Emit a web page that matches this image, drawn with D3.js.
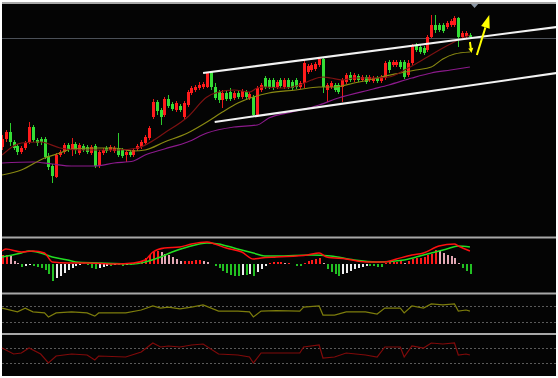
<!DOCTYPE html>
<html>
<head>
<meta charset="utf-8">
<script src="https://cdn.jsdelivr.net/npm/d3@7/dist/d3.min.js"></script>
<style>
body { margin: 0; background: #fff; }
svg { display: block; }
</style>
</head>
<body>
<div id="chart"></div>
<script>
// candle prices (arbitrary units)
var opens  = [93,101,108,98,94,88,92,98,113,100,101,101,84,74,63,85,88,95,90,96,87,94,93,87,94,74,87,92,90,89,
              92,90,85,88,85,91,93,97,102,123,138,130,125,141,136,130,134,123,135,147,150,152,153,153,168,153,148,140,147,148,
              142,147,143,148,142,143,125,150,162,160,160,153,160,153,160,158,160,153,157,168,170,171,175,181,150,153,155,155,153,158,
              165,160,164,160,163,160,159,162,159,162,178,175,175,178,178,165,177,195,193,192,190,203,215,215,215,213,215,215,222,203,204,205];
var highs  = [105,110,117,100,96,94,99,118,115,102,103,103,87,76,87,90,97,97,102,98,97,96,95,95,96,90,92,94,95,94,
              107,92,90,90,92,96,100,105,114,141,140,132,143,145,138,139,136,139,150,154,155,158,158,168,168,157,150,150,150,152,
              149,149,151,150,148,145,154,157,164,162,162,160,162,162,162,160,162,159,180,176,177,178,182,182,157,159,157,157,162,167,
              168,167,166,165,165,165,164,164,165,179,180,180,180,180,180,180,196,197,195,194,205,225,225,217,217,219,221,224,223,209,209,207];
var lows   = [90,98,94,90,85,86,90,96,98,94,95,81,70,57,62,83,86,88,84,86,85,88,86,85,72,72,85,87,88,87,
              83,82,78,83,83,89,91,95,100,121,125,115,123,132,129,128,128,121,133,145,148,150,151,152,150,140,137,132,139,139,
              140,141,141,141,140,123,123,148,151,151,150,151,152,151,151,150,151,151,152,166,168,169,173,147,138,151,148,146,138,156,
              158,158,158,158,156,158,157,157,157,160,167,173,173,171,161,163,175,188,186,185,188,202,207,208,207,211,213,213,193,201,202,201];
var closes = [101,108,98,92,88,92,97,113,100,97,98,83,73,64,85,88,95,90,96,90,95,90,88,93,74,88,90,89,93,92,
              85,84,88,85,90,94,98,103,112,138,129,123,141,134,131,137,130,137,148,152,153,155,156,168,153,142,140,147,141,141,
              147,143,149,143,146,125,152,155,153,153,152,158,154,160,153,152,153,157,177,174,175,176,181,153,155,157,150,148,160,165,
              160,165,160,163,158,163,162,159,163,177,170,178,178,173,163,177,194,190,188,187,203,215,210,210,209,217,219,222,203,207,207,203];

// moving averages: [candle index, value]
var maShort = [[0,85],[5,97],[10,98],[15,92],[20,90],[25,90],[30,90],[35,92],[38,97],[42,107],[48,123],[53,143],[56,148],
               [60,150],[64,148],[66,152],[68,153],[73,152],[77,155],[80,160],[83,163],[85,162],[88,160],[91,162],[96,162],
               [100,163],[105,172],[110,183],[114,192],[118,200],[121,205]];
var maMid   = [[0,65],[5,70],[11,82],[15,87],[18,91],[25,92],[29,92],[34,89],[37,90],[42,98],[48,107],[53,118],[57,128],
               [61,137],[65,143],[69,147],[76,150],[82,153],[86,153],[91,157],[96,161],[98,163],[103,167],[107,170],[111,173],
               [114,181],[117,186],[121,188]];
var maLong  = [[0,77],[8,78],[13,76],[18,74],[24,74],[29,77],[34,79],[37,85],[42,91],[48,98],[53,107],[60,113],[66,115],
               [69,122],[75,128],[82,135],[87,142],[96,151],[100,155],[106,162],[111,167],[116,170],[121,173]];

// trend channel and marks drawn on the main panel
var channelTop    = [[52,167],[143.5,213]];
var channelBottom = [[55,118],[143.5,167]];
var priceLine = 202;
var arrowSmall = [[121,198],[121.4,187]];
var arrowBig   = [[122.8,185],[126,225]];
var markerIndex = 122.2;

// MACD: [index, value]
var dif = [[0,0.13],[1,0.15],[5,0.12],[8,0.13],[11,0.11],[13,0.02],[17,0.01],[22,0.01],[29,0.00],[34,0.01],[37,0.04],
           [39,0.12],[42,0.16],[46,0.17],[49,0.20],[53,0.22],[55,0.20],[58,0.16],[62,0.12],[65,0.05],[67,0.06],[71,0.07],
           [79,0.09],[82,0.11],[84,0.07],[89,0.05],[94,0.02],[99,0.02],[102,0.05],[106,0.09],[109,0.11],[113,0.18],
           [117,0.20],[118,0.18],[121,0.13]];
var dea = [[0,0.07],[5,0.11],[7,0.13],[10,0.11],[13,0.07],[17,0.04],[19,0.02],[25,0.01],[34,0.00],[37,0.02],[41,0.07],
           [44,0.12],[48,0.17],[53,0.21],[56,0.20],[60,0.16],[65,0.11],[68,0.08],[71,0.08],[80,0.09],[85,0.08],[91,0.04],
           [97,0.02],[104,0.04],[109,0.09],[115,0.15],[118,0.18],[121,0.17]];
var macdHist = [0.09,0.09,0.08,0.03,0.01,-0.03,-0.02,-0.01,-0.02,-0.03,-0.04,-0.06,-0.10,-0.17,-0.14,-0.12,-0.09,-0.06,-0.04,-0.02,
                -0.01,0.005,-0.01,-0.04,-0.05,-0.04,-0.03,-0.02,-0.02,-0.01,-0.01,-0.02,-0.01,-0.01,0.01,0.01,0.03,0.06,0.09,0.12,
                0.13,0.12,0.10,0.09,0.07,0.05,0.03,0.03,0.03,0.03,0.04,0.04,0.03,0.02,0.00,-0.02,-0.04,-0.07,-0.09,-0.11,
                -0.12,-0.12,-0.11,-0.11,-0.10,-0.12,-0.08,-0.05,-0.02,0.01,0.02,0.02,0.02,0.01,0.01,0.00,-0.02,-0.02,0.01,0.03,
                0.04,0.05,0.06,0.01,-0.05,-0.08,-0.10,-0.12,-0.10,-0.09,-0.07,-0.05,-0.04,-0.03,-0.02,-0.02,-0.02,-0.03,-0.03,0.01,
                0.02,0.02,0.02,0.03,0.01,0.03,0.05,0.06,0.06,0.07,0.09,0.10,0.14,0.13,0.11,0.09,0.08,0.06,0.01,-0.04,
                -0.07,-0.10];

// two oscillators: [index, value], guide lines at 20 / 80
var osc1 = [[0,72],[4,58],[6,72],[8,58],[11,54],[12,39],[14,54],[18,58],[22,54],[24,42],[25,54],[32,54],[36,65],[39,80],
            [41,72],[43,76],[46,69],[49,76],[52,84],[56,61],[61,61],[64,58],[65,39],[67,61],[71,63],[77,61],[78,76],[82,80],
            [83,46],[86,46],[89,58],[94,58],[97,50],[99,72],[103,72],[104,54],[106,80],[109,72],[111,88],[114,84],[117,88],
            [118,61],[120,65],[121,61]];
var osc2 = [[0,80],[3,56],[5,60],[7,80],[10,56],[12,20],[14,48],[18,56],[22,52],[24,32],[25,48],[32,44],[36,64],[39,100],
            [41,84],[43,88],[46,84],[49,92],[52,96],[56,56],[61,52],[64,44],[65,20],[67,60],[71,60],[77,60],[78,84],[82,92],
            [83,40],[86,44],[89,60],[94,52],[97,44],[99,84],[103,84],[104,44],[106,88],[109,80],[111,100],[114,96],[117,100],
            [118,52],[120,56],[121,52]];
var oscGuides = [20, 80];

function KChart(container){
    this.chart = {};
    this.chart.width = 558;
    this.chart.height = 378;
    this.chart.left = 2;
    this.chart.right = 556;
    this.chart.container = container;
    this.chart.svg = null;
    this.chart.x = null;

    this.init();
}

KChart.prototype = {
    constructor: KChart,

    line: function(g, pts, y, color, width){
        var x = this.chart.x;
        g.append("path")
            .datum(pts)
            .attr("fill", "none")
            .attr("stroke", color)
            .attr("stroke-width", width)
            .attr("d", d3.line()
                .x(function(d) { return x(d[0]); })
                .y(function(d) { return y(d[1]); }));
    },

    drawMain: function(){
        var self = this,
            chart = self.chart,
            x = chart.x;

        var y = d3.scaleLinear().domain([0, 240]).range([240, 0]);

        chart.svg.append("clipPath").attr("id", "clip-main")
            .append("rect").attr("x", chart.left).attr("y", 3)
            .attr("width", chart.right - chart.left).attr("height", 233);

        var g = chart.svg.append("g").attr("clip-path", "url(#clip-main)");

        // last price line
        g.append("line")
            .attr("x1", chart.left).attr("x2", chart.right)
            .attr("y1", Math.round(y(priceLine)) + 0.5).attr("y2", Math.round(y(priceLine)) + 0.5)
            .attr("stroke", "#4b5058");

        var idx = d3.range(closes.length);
        var up = function(i) { return closes[i] >= opens[i]; };

        g.append("g").selectAll("line")
            .data(idx)
            .enter().append("line")
            .attr("x1", function(i) { return Math.round(x(i)) + 0.5; })
            .attr("x2", function(i) { return Math.round(x(i)) + 0.5; })
            .attr("y1", function(i) { return y(highs[i]); })
            .attr("y2", function(i) { return y(lows[i]); })
            .attr("stroke", function(i) { return up(i) ? "#e81818" : "#2ccc2c"; });

        g.append("g").selectAll("rect")
            .data(idx)
            .enter().append("rect")
            .attr("x", function(i) { return Math.round(x(i)) - 1; })
            .attr("y", function(i) { return y(Math.max(opens[i], closes[i])); })
            .attr("width", 3)
            .attr("height", function(i) { return Math.max(1, Math.abs(y(opens[i]) - y(closes[i]))); })
            .attr("fill", function(i) { return up(i) ? "#ff1c1c" : "#35dd35"; });

        var curve = d3.curveMonotoneX;
        var ma = function(pts, color){
            g.append("path")
                .datum(pts)
                .attr("fill", "none")
                .attr("stroke", color)
                .attr("stroke-width", 1.2)
                .attr("d", d3.line().curve(curve)
                    .x(function(d) { return x(d[0]); })
                    .y(function(d) { return y(d[1]); }));
        };
        ma(maLong, "#8c1a8c");
        ma(maMid, "#8a8a12");
        ma(maShort, "#7c1212");

        // channel
        self.line(g, channelTop, y, "#f2f2f2", 2);
        self.line(g, channelBottom, y, "#f2f2f2", 2);

        // yellow arrows
        var arrow = function(pts, head, w){
            var x0 = x(pts[0][0]), y0 = y(pts[0][1]),
                x1 = x(pts[1][0]), y1 = y(pts[1][1]);
            var a = Math.atan2(y1 - y0, x1 - x0);
            var bx = x1 - head * Math.cos(a), by = y1 - head * Math.sin(a);
            var nx = -Math.sin(a) * w, ny = Math.cos(a) * w;
            g.append("line")
                .attr("x1", x0).attr("y1", y0).attr("x2", bx).attr("y2", by)
                .attr("stroke", "#ffff00").attr("stroke-width", 2);
            g.append("path")
                .attr("d", "M" + x1 + "," + y1 + "L" + (bx + nx) + "," + (by + ny) + "L" + (bx - nx) + "," + (by - ny) + "Z")
                .attr("fill", "#ffff00");
        };
        arrow(arrowSmall, 5, 2.5);
        arrow(arrowBig, 13, 4.5);

        // small marker on top
        var mx = x(markerIndex);
        chart.svg.append("path")
            .attr("d", "M" + (mx - 4.5) + ",3L" + (mx + 4.5) + ",3L" + mx + ",8Z")
            .attr("fill", "#8a96a4");
    },

    drawMacd: function(){
        var self = this,
            chart = self.chart,
            x = chart.x;

        var y = d3.scaleLinear().domain([-0.29, 0.25]).range([293, 239]);
        var g = chart.svg.append("g");

        g.selectAll("rect")
            .data(macdHist)
            .enter().append("rect")
            .attr("x", function(d, i) { return Math.round(x(i)); })
            .attr("y", function(d) { return d >= 0 ? y(d) : y(0); })
            .attr("width", 2)
            .attr("height", function(d) { return Math.abs(y(d) - y(0)); })
            .attr("fill", function(d, i) {
                var prev = i > 0 ? macdHist[i - 1] : 0;
                if (d >= 0) return d >= prev ? "#ff1a1a" : "#e2a8b4";
                return d <= prev ? "#22c022" : "#eeeeee";
            });

        var curve = d3.curveMonotoneX;
        [[dea, "#22dd22"], [dif, "#ff1010"]].forEach(function(s){
            g.append("path")
                .datum(s[0])
                .attr("fill", "none")
                .attr("stroke", s[1])
                .attr("stroke-width", 1.5)
                .attr("d", d3.line().curve(curve)
                    .x(function(d) { return x(d[0]); })
                    .y(function(d) { return y(d[1]); }));
        });
    },

    drawOsc: function(data, top, bottom, color){
        var self = this,
            chart = self.chart,
            x = chart.x;

        var y = d3.scaleLinear().domain([20, 80]).range([bottom, top]);
        var g = chart.svg.append("g");

        g.selectAll("line")
            .data(oscGuides)
            .enter().append("line")
            .attr("x1", chart.left).attr("x2", chart.right)
            .attr("y1", function(d) { return Math.round(y(d)) + 0.5; })
            .attr("y2", function(d) { return Math.round(y(d)) + 0.5; })
            .attr("stroke", "#5a5a5a")
            .attr("stroke-dasharray", "2,2");

        self.line(g, data, y, color, 1.2);
    },

    init: function(){
        var self = this,
            chart = self.chart;

        chart.svg = d3.select(chart.container)
            .append("svg")
            .attr("width", chart.width)
            .attr("height", chart.height);

        chart.svg.append("rect")
            .attr("x", chart.left).attr("y", 2)
            .attr("width", chart.right - chart.left).attr("height", 374)
            .attr("fill", "#040404");

        chart.x = d3.scaleLinear().domain([0, 143]).range([2, 555]);

        self.drawMain();
        self.drawMacd();
        self.drawOsc(osc1, 306, 322, "#7d7d0c");
        self.drawOsc(osc2, 348, 363, "#800a0a");

        // panel frames
        var seps = [2, 236.5, 292.5, 333];
        chart.svg.append("g").selectAll("rect")
            .data(seps)
            .enter().append("rect")
            .attr("x", chart.left).attr("y", function(d) { return d; })
            .attr("width", chart.right - chart.left).attr("height", 2)
            .attr("fill", "#a8a8a8");
    }
}

new KChart("#chart");
</script>
</body>
</html>
